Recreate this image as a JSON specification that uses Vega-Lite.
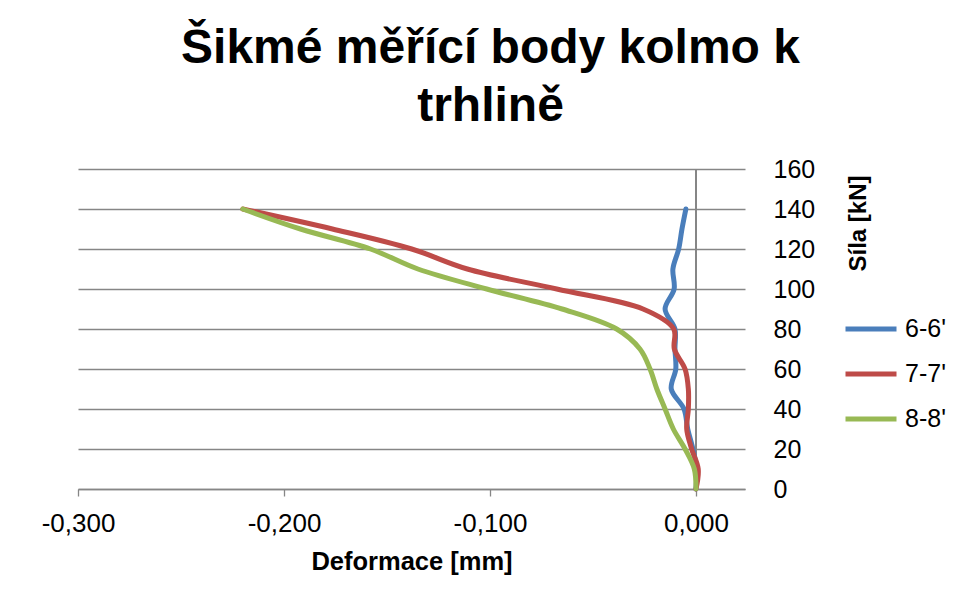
{
  "$schema": "https://vega.github.io/schema/vega-lite/v6.json",
  "width": 667,
  "height": 320,
  "autosize": {"type": "none"},
  "padding": {"left": 78, "top": 169, "right": 217, "bottom": 116},
  "background": "white",
  "config": {
    "locale": {"number": {"decimal": ",", "thousands": " ", "grouping": [3], "currency": ["", " Kč"], "minus": "-"}},
    "view": {"stroke": null},
    "font": "Liberation Sans"
  },
  "title": {
    "text": ["Šikmé měřící body kolmo k", "trhlině"],
    "font": "Liberation Sans",
    "fontSize": 48,
    "fontWeight": "bold",
    "color": "black",
    "anchor": "middle",
    "frame": "group",
    "dx": 79,
    "offset": 26,
    "lineHeight": 58
  },
  "data": {
    "values": [
      {"s": "6-6'", "F": 0, "d": 0},
      {"s": "6-6'", "F": 10, "d": 0.0003},
      {"s": "6-6'", "F": 20, "d": -0.0015},
      {"s": "6-6'", "F": 30, "d": -0.004},
      {"s": "6-6'", "F": 40, "d": -0.0058},
      {"s": "6-6'", "F": 50, "d": -0.012},
      {"s": "6-6'", "F": 60, "d": -0.0098},
      {"s": "6-6'", "F": 70, "d": -0.0102},
      {"s": "6-6'", "F": 80, "d": -0.0102},
      {"s": "6-6'", "F": 90, "d": -0.015},
      {"s": "6-6'", "F": 100, "d": -0.0106},
      {"s": "6-6'", "F": 110, "d": -0.0112},
      {"s": "6-6'", "F": 120, "d": -0.0084},
      {"s": "6-6'", "F": 130, "d": -0.0068},
      {"s": "6-6'", "F": 140, "d": -0.0049},
      {"s": "7-7'", "F": 0, "d": 0},
      {"s": "7-7'", "F": 10, "d": 0.0011},
      {"s": "7-7'", "F": 20, "d": -0.0021},
      {"s": "7-7'", "F": 30, "d": -0.0045},
      {"s": "7-7'", "F": 40, "d": -0.0037},
      {"s": "7-7'", "F": 50, "d": -0.0037},
      {"s": "7-7'", "F": 60, "d": -0.0053},
      {"s": "7-7'", "F": 70, "d": -0.0105},
      {"s": "7-7'", "F": 80, "d": -0.0108},
      {"s": "7-7'", "F": 90, "d": -0.0257},
      {"s": "7-7'", "F": 100, "d": -0.0676},
      {"s": "7-7'", "F": 110, "d": -0.111},
      {"s": "7-7'", "F": 120, "d": -0.138},
      {"s": "7-7'", "F": 130, "d": -0.1765},
      {"s": "7-7'", "F": 140, "d": -0.22},
      {"s": "8-8'", "F": 0, "d": 0},
      {"s": "8-8'", "F": 10, "d": -0.0008},
      {"s": "8-8'", "F": 20, "d": -0.0053},
      {"s": "8-8'", "F": 30, "d": -0.011},
      {"s": "8-8'", "F": 40, "d": -0.015},
      {"s": "8-8'", "F": 50, "d": -0.019},
      {"s": "8-8'", "F": 60, "d": -0.0223},
      {"s": "8-8'", "F": 70, "d": -0.0272},
      {"s": "8-8'", "F": 80, "d": -0.0385},
      {"s": "8-8'", "F": 90, "d": -0.065},
      {"s": "8-8'", "F": 100, "d": -0.1016},
      {"s": "8-8'", "F": 110, "d": -0.135},
      {"s": "8-8'", "F": 120, "d": -0.158},
      {"s": "8-8'", "F": 130, "d": -0.192},
      {"s": "8-8'", "F": 140, "d": -0.22}
    ]
  },
  "layer": [
    {
      "mark": {"type": "rule", "color": "#868686", "strokeWidth": 1.3},
      "encoding": {"x": {"datum": 0, "type": "quantitative"}}
    },
    {
      "mark": {"type": "line", "interpolate": "catmull-rom", "strokeWidth": 5, "strokeCap": "round", "strokeJoin": "round"},
      "encoding": {
        "x": {
          "field": "d",
          "type": "quantitative",
          "scale": {"domain": [-0.3, 0.0238], "nice": false, "zero": false},
          "axis": {
            "values": [-0.3, -0.2, -0.1, 0],
            "format": ".3f",
            "grid": false,
            "domainColor": "#868686",
            "domainWidth": 1.3,
            "tickColor": "#868686",
            "tickSize": 7,
            "tickWidth": 1.3,
            "labelFont": "Liberation Sans",
            "labelFontSize": 26,
            "labelColor": "black",
            "labelPadding": 14,
            "labelFlush": false,
            "labelOverlap": false,
            "title": "Deformace [mm]",
            "titleFont": "Liberation Sans",
            "titleFontSize": 25.5,
            "titleFontWeight": "bold",
            "titleColor": "black",
            "titleY": 60,
            "titleBaseline": "top"
          }
        },
        "y": {
          "field": "F",
          "type": "quantitative",
          "scale": {"domain": [0, 160], "nice": false},
          "axis": {
            "orient": "right",
            "values": [0, 20, 40, 60, 80, 100, 120, 140, 160],
            "grid": true,
            "gridColor": "#868686",
            "gridWidth": 1.3,
            "domain": false,
            "ticks": false,
            "labelFont": "Liberation Sans",
            "labelFontSize": 25,
            "labelColor": "black",
            "labelPadding": 28,
            "labelFlush": false,
            "labelOverlap": false,
            "title": "Síla [kN]",
            "titleFont": "Liberation Sans",
            "titleFontSize": 24,
            "titleFontWeight": "bold",
            "titleColor": "black",
            "titleAngle": 270,
            "titleX": 113,
            "titleY": 54,
            "titleAlign": "center",
            "titleBaseline": "middle"
          }
        },
        "color": {
          "field": "s",
          "type": "nominal",
          "scale": {"domain": ["6-6'", "7-7'", "8-8'"], "range": ["#4A7EBB", "#BE4B48", "#98B954"]},
          "legend": {
            "orient": "none",
            "legendX": 765,
            "legendY": 132,
            "title": null,
            "symbolType": "stroke",
            "symbolSize": 2601,
            "symbolStrokeWidth": 5,
            "labelFont": "Liberation Sans",
            "labelFontSize": 25,
            "labelColor": "black",
            "labelOffset": 6,
            "rowPadding": 4,
            "padding": 0
          }
        },
        "order": {"field": "F", "type": "quantitative"}
      }
    }
  ]
}
